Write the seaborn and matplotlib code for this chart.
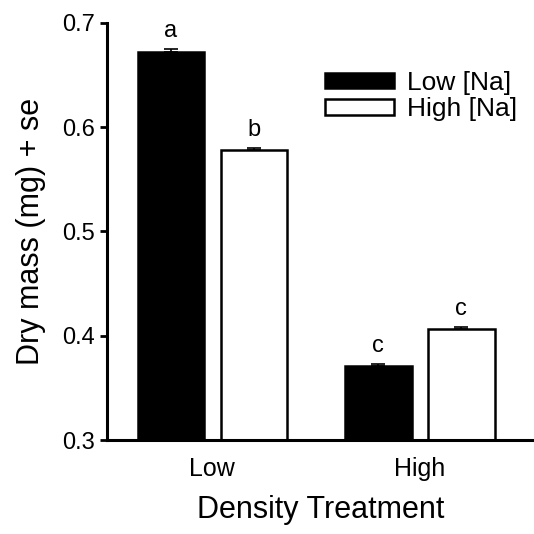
"""
Dry mass by density treatment and sodium level, bar chart with se.
"""

import matplotlib
matplotlib.use("Agg")
import matplotlib.pyplot as plt
import pandas as pd
import seaborn as sns

# ── data ──────────────────────────────────────────────────────────────────────
density = ["Low", "High"]
sodium = ["Low [Na]", "High [Na]"]

mass_low_na = [0.672, 0.371]
mass_high_na = [0.578, 0.406]
se_low_na = [0.003, 0.002]
se_high_na = [0.002, 0.002]
letters_low_na = ["a", "c"]
letters_high_na = ["b", "c"]

sns.set_theme(style="ticks")
plt.rcParams["font.family"] = ["Liberation Sans", "DejaVu Sans"]
for key in ("text.color", "axes.labelcolor", "xtick.color", "ytick.color",
            "axes.edgecolor"):
    plt.rcParams[key] = "black"

df = pd.DataFrame({
    "density": density * 2,
    "sodium": [sodium[0]] * 2 + [sodium[1]] * 2,
    "mass": mass_low_na + mass_high_na,
    "se": se_low_na + se_high_na,
    "letter": letters_low_na + letters_high_na,
})

fig = plt.figure(figsize=(5.34, 5.34), dpi=100)
ax = fig.add_axes([0.2004, 0.176, 0.7996, 0.781])

sns.barplot(
    data=df, x="density", y="mass", hue="sodium",
    order=density, hue_order=sodium,
    palette=["black", "white"], edgecolor="black", linewidth=1.8,
    width=0.8, gap=0.2, errorbar=None, saturation=1, ax=ax,
)

# error bars (upper only) + significance letters
for container, level in zip(ax.containers, sodium):
    sub = df[df["sodium"] == level].set_index("density").loc[density]
    for bar, val, se, letter in zip(container, sub["mass"], sub["se"], sub["letter"]):
        xc = bar.get_x() + bar.get_width() / 2
        ax.errorbar(xc, val, yerr=[[0], [se]], fmt="none", ecolor="black",
                    elinewidth=1.2, capsize=5, capthick=1.2)
        ax.annotate(letter, xy=(xc, val + se), xytext=(0, 5),
                    textcoords="offset points", ha="center", va="bottom",
                    fontsize=17)

ax.set_ylim(0.3, 0.7)
ax.set_yticks([0.3, 0.4, 0.5, 0.6, 0.7])
ax.set_xlim(-0.507, 1.55)
ax.set_xlabel("Density Treatment", fontsize=22, labelpad=10)
ax.set_ylabel("Dry mass (mg) + se", fontsize=22, labelpad=12)
ax.tick_params(axis="y", labelsize=17, length=5, width=2, direction="out")
ax.tick_params(axis="x", labelsize=18, length=0, pad=12)

sns.despine(ax=ax, top=True, right=True)
for side in ("left", "bottom"):
    ax.spines[side].set_linewidth(2.2)

handles, labels = ax.get_legend_handles_labels()
ax.legend(
    handles, labels, title=None, frameon=False, fontsize=19,
    handlelength=2.6, handleheight=0.5, handletextpad=0.5,
    labelspacing=0.1, loc="upper left",
    bbox_to_anchor=(0.565, 0.912), bbox_transform=fig.transFigure,
)

fig.savefig("out.png", dpi=100)
plt.close(fig)
